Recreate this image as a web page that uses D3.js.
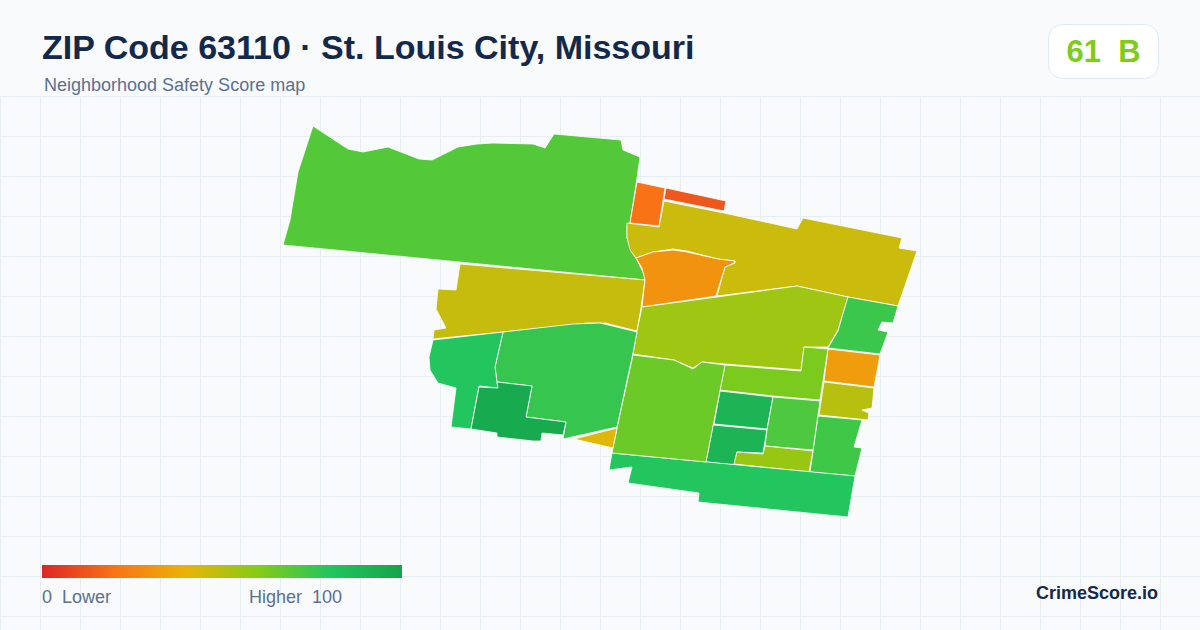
<!DOCTYPE html>
<html>
<head>
<meta charset="utf-8">
<script src="https://cdn.jsdelivr.net/npm/d3@7"></script>
<style>
  html, body { margin: 0; padding: 0; background: #f8fafc; }
  svg { display: block; }
  text { font-family: "Liberation Sans", Arial, sans-serif; white-space: pre; }
</style>
</head>
<body>
<svg id="chart" width="1200" height="630"></svg>
<script>
'use strict';

//score scale
var scoreStops = [0, 20, 40, 60, 80, 100];
var scoreColors = ['#dc2626', '#f97316', '#eab308', '#84cc16', '#22c55e', '#16a34a'];

//the tracts, in paint order. shapes are in map units
var tractScores = [70, 47, 20, 13, 46, 30, 55, 75, 33, 50, 74, 62, 90, 90, 71, 56, 80, 65, 42, 76, 80, 96];
var tractShapes = [
  [[33,6],[68,29],[83,32],[108,27],[139,39],[152,40],[178,27],[197,24],[213,23],[253,24],[265,28],[274,14],[341,20],[343,30],[360,37],[356,65],[350,103],[347,105],[347,118],[352,132],[357,140],[363,152],[365.5,160],[3,125],[10,100],[18,52]],
  [[180,144],[365,160],[361,188],[357,211],[325,203],[307,203],[273,207],[223,212],[153,219],[154,210],[166,208],[156,189],[158,169],[176,170]],
  [[357,62],[385,68],[379,106],[350,103]],
  [[386,68],[446,81],[444,91],[384,79]],
  [[384,81],[444,93],[517,109],[523,98],[622,118],[619,128],[637,131],[618,186],[568,177],[517,166],[437,176],[445,147],[455,143],[455,141],[438,139],[407,131],[393,129],[373,132],[356,138],[350,130],[347,117],[347,103],[379,107]],
  [[356,138],[373,132],[393,130],[407,132],[438,139],[455,141],[454,143],[445,147],[436,176],[362,187],[365,160],[362,148]],
  [[362,187],[437,177],[517,166],[568,177],[562,197],[558,210],[548,227],[524,227],[521,250],[445,244],[422,242],[413,248],[394,240],[353,234],[357,211]],
  [[568,177],[618,186],[613,203],[602,202],[598,210],[608,212],[600,234],[548,228],[558,211],[562,197]],
  [[548,229],[600,235],[594,267],[544,261]],
  [[544,262],[594,268],[592,288],[582,290],[589,293],[588,300],[539,295]],
  [[538,296],[582,300],[574,327],[582,328],[575,356],[530,352]],
  [[524,227],[548,229],[540,280],[493,276],[440,270],[445,245],[521,251]],
  [[440,271],[493,277],[487,309],[434,304]],
  [[433,305],[487,310],[483,333],[457,332],[454,345],[426,342]],
  [[493,277],[540,281],[533,330],[485,326],[487,310]],
  [[485,326],[533,331],[529,352],[454,344],[457,332],[483,334]],
  [[332,333],[575,356],[568,397],[418,382],[419,373],[348,363],[352,347],[329,350]],
  [[353,235],[394,240],[413,249],[422,242],[445,245],[426,342],[332,333],[337,308]],
  [[337,308],[333,328],[294,319]],
  [[223,212],[293,204],[320,203],[357,212],[353,233],[337,307],[283,319],[286,302],[246,297],[252,266],[217,262],[215,247]],
  [[153,220],[223,212],[215,247],[217,262],[218,268],[199,266],[191,309],[171,307],[176,268],[158,263],[150,250],[149,237]],
  [[217,262],[252,266],[246,297],[286,302],[283,315],[262,313],[261,321],[253,321],[217,317],[217,313],[191,309],[199,267],[218,268]]
];

var overallScore = 61;
var overallGrade = 'B';
var titleText = 'ZIP Code 63110 · St. Louis City, Missouri';
var subtitleText = 'Neighborhood Safety Score map';
var legendLow = '0  Lower';
var legendHigh = 'Higher  100';
var brandText = 'CrimeScore.io';

var svg = d3.select('#chart');
var color = d3.scaleLinear().domain(scoreStops).range(scoreColors).interpolate(d3.interpolateRgb);

//background and grid
svg.append('rect').attr('width', 1200).attr('height', 630).attr('fill', '#f8fafc');
var grid = svg.append('g').attr('stroke', '#e6eef2').attr('stroke-width', 1);
grid.selectAll('line.v').data(d3.range(0, 1200, 40)).enter().append('line').attr('class', 'v')
  .attr('x1', function(d) { return d + 0.5; }).attr('x2', function(d) { return d + 0.5; })
  .attr('y1', 96).attr('y2', 630);
grid.selectAll('line.h').data(d3.range(96, 630, 40)).enter().append('line').attr('class', 'h')
  .attr('x1', 0).attr('x2', 1200)
  .attr('y1', function(d) { return d + 0.5; }).attr('y2', function(d) { return d + 0.5; });

//the map
var mapX = d3.scaleLinear().domain([0, 640]).range([280, 920]);
var mapY = d3.scaleLinear().domain([0, 400]).range([120, 520]);
var shapeLine = d3.line()
  .x(function(d) { return mapX(d[0]); })
  .y(function(d) { return mapY(d[1]); })
  .curve(d3.curveLinearClosed);

svg.append('g').selectAll('path').data(tractShapes).enter().append('path')
  .attr('d', shapeLine)
  .attr('fill', function(d, i) { return color(tractScores[i]); })
  .attr('stroke', '#ffffff')
  .attr('stroke-width', 0.8)
  .attr('stroke-linejoin', 'round');

//header
svg.append('text').attr('x', 42).attr('y', 59)
  .attr('font-size', 34).attr('font-weight', 700).attr('fill', '#14294a').text(titleText);
svg.append('text').attr('x', 44).attr('y', 91)
  .attr('font-size', 18).attr('fill', '#5b7090').text(subtitleText);

//score badge
svg.append('rect').attr('x', 1048.5).attr('y', 24.5).attr('width', 110).attr('height', 54).attr('rx', 14)
  .attr('fill', '#ffffff').attr('stroke', '#e2e8f0');
svg.append('text').attr('x', 1103.5).attr('y', 62).attr('text-anchor', 'middle')
  .attr('font-size', 31).attr('font-weight', 700).attr('fill', color(overallScore))
  .text(overallScore + '  ' + overallGrade);

//legend
var legendX = d3.scaleLinear().domain([0, 100]).range([42, 402]);
var grad = svg.append('defs').append('linearGradient').attr('id', 'legendGrad');
grad.selectAll('stop').data(scoreStops).enter().append('stop')
  .attr('offset', function(d) { return d + '%'; })
  .attr('stop-color', function(d, i) { return scoreColors[i]; });
svg.append('rect').attr('x', legendX(0)).attr('y', 565)
  .attr('width', legendX(100) - legendX(0)).attr('height', 13).attr('fill', 'url(#legendGrad)');
svg.append('text').attr('x', legendX(0)).attr('y', 603)
  .attr('font-size', 18).attr('fill', '#5b7090').text(legendLow);
svg.append('text').attr('x', 249).attr('y', 603)
  .attr('font-size', 18).attr('fill', '#5b7090').text(legendHigh);

svg.append('text').attr('x', 1158).attr('y', 599).attr('text-anchor', 'end')
  .attr('font-size', 18).attr('font-weight', 700).attr('fill', '#14294a').text(brandText);
</script>
</body>
</html>
